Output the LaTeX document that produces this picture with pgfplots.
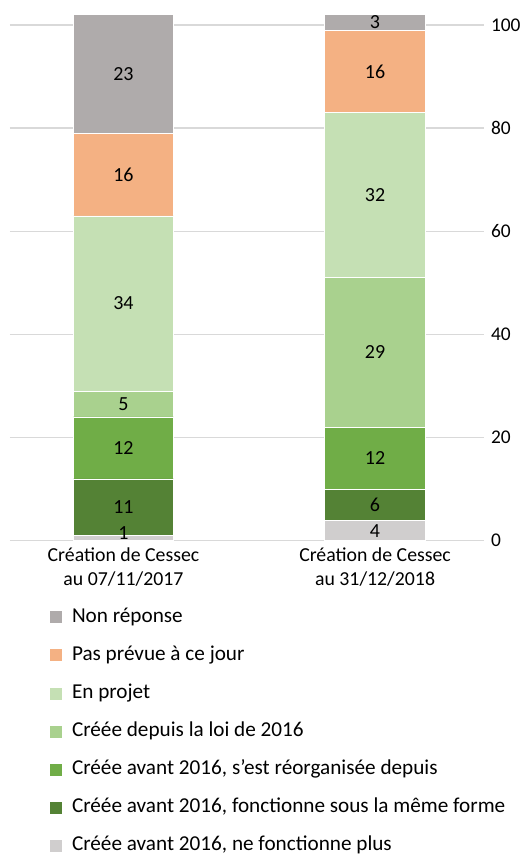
\documentclass[border=0pt]{standalone}
\usepackage{pgfplots}
\pgfplotsset{compat=1.18}
\usepackage{fontspec}
\setmainfont{Carlito}

\definecolor{nonrep}{HTML}{AFABAB}
\definecolor{pasprev}{HTML}{F4B183}
\definecolor{projet}{HTML}{C5E0B4}
\definecolor{loi}{HTML}{A9D18E}
\definecolor{reorg}{HTML}{70AD47}
\definecolor{meme}{HTML}{548235}
\definecolor{plus}{HTML}{D0CECE}
\definecolor{gridc}{HTML}{D9D9D9}

\pgfplotsset{
  common/.style={
    scale only axis,
    width=237pt, height=263pt,
    xmin=-0.451, xmax=1.433,
    ymin=0, ymax=102,
  },
}

\begin{document}
\begin{tikzpicture}
\begin{axis}[
  common,
  name=main,
  ybar stacked,
  bar width=0.4,
  xtick={0,1},
  xticklabels={Création de Cessec\\au 07/11/2017, Création de Cessec\\au 31/12/2018},
  xticklabel style={align=center, font=\fontsize{9.9}{12}\selectfont},
  ytick={0,20,...,100},
  yticklabel pos=right,
  yticklabel style={font=\fontsize{9.7}{11}\selectfont},
  /pgf/number format/assume math mode=true,
  ymajorgrids,
  grid style={draw=gridc, line width=0.65pt},
  axis line style={draw=none},
  major tick length=0pt,
  reverse legend,
  legend cell align=left,
  legend image code/.code={\fill[#1] (0pt,-3.25pt) rectangle (6.5pt,3.25pt);},
  legend style={
    at={(0,0)}, anchor=north west, xshift=19.5pt, yshift=-32.5pt,
    draw=none, fill=none, inner sep=0pt,
    font=\fontsize{10.6}{12}\selectfont,
    row sep=8.05pt, column sep=3.5pt,
    nodes={inner sep=1pt, text height=7pt, text depth=2pt},
  },
]
% bottom to top
\addplot[fill=plus, draw=white, line width=0.3pt] coordinates {(0,1) (1,4)};
\addlegendentry{Créée avant 2016, ne fonctionne plus}
\addplot[fill=meme, draw=white, line width=0.3pt] coordinates {(0,11) (1,6)};
\addlegendentry{Créée avant 2016, fonctionne sous la même forme}
\addplot[fill=reorg, draw=white, line width=0.3pt] coordinates {(0,12) (1,12)};
\addlegendentry{Créée avant 2016, s’est réorganisée depuis}
\addplot[fill=loi, draw=white, line width=0.3pt] coordinates {(0,5) (1,29)};
\addlegendentry{Créée depuis la loi de 2016}
\addplot[fill=projet, draw=white, line width=0.3pt] coordinates {(0,34) (1,32)};
\addlegendentry{En projet}
\addplot[fill=pasprev, draw=white, line width=0.3pt] coordinates {(0,16) (1,16)};
\addlegendentry{Pas prévue à ce jour}
\addplot[fill=nonrep, draw=white, line width=0.3pt] coordinates {(0,23) (1,3)};
\addlegendentry{Non réponse}
\end{axis}

% segment values, placed at the middle of each segment
\begin{axis}[common, hide axis, clip=false]
\addplot[draw=none, mark=none, nodes near coords, point meta=explicit symbolic,
  every node near coord/.style={anchor=center, font=\fontsize{10}{11}\selectfont, text=black}]
  coordinates {
  (0,1.4)[1] (0,6.5)[11] (0,18)[12] (0,26.5)[5] (0,46)[34] (0,71)[16] (0,90.5)[23]
};
\addplot[draw=none, mark=none, nodes near coords, point meta=explicit symbolic,
  every node near coord/.style={anchor=center, font=\fontsize{10}{11}\selectfont, text=black}]
  coordinates {
  (1,1.9)[4] (1,7)[6] (1,16)[12] (1,36.5)[29] (1,67)[32] (1,91)[16] (1,100.5)[3]
};
\end{axis}

\pgfresetboundingbox
\path ([xshift=-5pt,yshift=-157.65pt]main.south west) rectangle ([xshift=22pt,yshift=7.35pt]main.north east);
\end{tikzpicture}
\end{document}
